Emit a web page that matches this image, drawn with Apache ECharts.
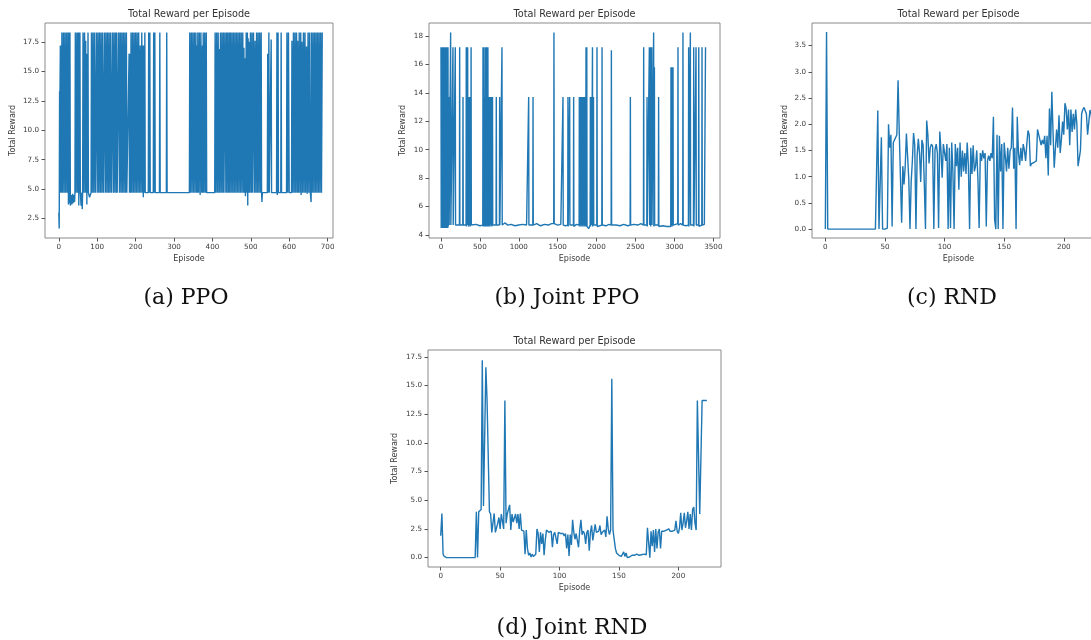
<!DOCTYPE html>
<html>
<head>
<meta charset="utf-8">
<script src="https://cdn.jsdelivr.net/npm/echarts@6/dist/echarts.min.js"></script>
<style>
html, body { margin: 0; padding: 0; background: #fff; }
#chart { width: 1091px; height: 640px; }
</style>
</head>
<body>
<div id="chart"></div>
<script>
// ---- data ----
// (a) PPO : [episode, reward]
var ppoReward = [
	[0,3.0],[1,1.65],[2,13.3],[3,13.1],[4,17.2],[5,4.7],[6,17.2],[7,4.7],[8,18.3],[10,4.7],[12,18.3],[14,4.7],[16,18.3],[18,4.7],[20,18.3],[22,4.7],[24,18.3],[25,3.7],[26,18.3],[28,3.8],[29,18.3],[30,3.6],
	[32,4.5],[34,3.7],[36,4.6],[37,3.8],[39,4.5],[41,3.9],[42,4.7],
	[43,18.3],[44,4.7],[47,18.3],[48,4.7],[49,18.3],[50,4.7],[51,18.3],[52,3.6],[53,18.3],[54,4.7],[55,18.3],[56,4.7],
	[58,3.6],[60,4.7],[61,3.3],[62,4.7],
	[63,18.3],[65,4.7],[67,18.3],[69,4.7],[70,17.6],[71,4.7],[72,16.5],[73,3.7],[74,16.5],[75,4.7],[76,18.3],[77,4.7],
	[80,4.3],[82,4.5],[84,4.7],
	[85,18.3],[87,4.7],[89,18.3],[91,4.7],[93,18.3],[95,4.7],[97,4.7],[98,18.3],[100,4.7],[102,18.3],[104,4.7],[106,18.3],[108,4.7],[110,18.3],[112,4.7],[114,18.3],[116,4.7],[118,4.7],[119,18.3],[121,4.7],[123,18.3],[125,4.7],[127,18.3],[129,4.7],[131,18.3],[133,4.7],[135,18.3],[137,4.7],[139,4.6],[140,18.3],[142,4.7],[144,18.3],[146,4.7],[148,18.3],[150,4.7],[151,18.3],[152,4.7],
	[155,4.7],[156,18.3],[158,4.7],[160,18.3],[162,4.7],[164,18.3],[166,4.7],[168,18.3],[170,4.7],[172,18.3],[174,4.7],[176,18.3],[177,4.7],
	[182,4.7],[183,16.5],[184,4.7],[186,16.5],[187,4.7],[188,18.3],[190,4.7],[192,18.3],[194,4.7],[196,18.3],[198,4.7],[200,18.3],[202,4.7],[204,18.3],[206,4.7],[208,18.3],[210,4.7],[212,17.2],[214,4.7],[216,18.3],[218,4.7],[219,17.2],[220,4.3],[222,17.2],[223,4.7],[224,18.3],[225,4.7],
	[233,4.7],[234,18.3],[235,4.7],[237,18.3],[238,4.7],
	[246,4.7],[247,18.3],[248,4.7],[250,18.3],[251,4.7],
	[262,4.7],[263,18.3],[264,4.7],
	[280,4.7],[281,18.3],[282,4.7],
	[340,4.7],[341,18.3],[343,4.7],[345,18.3],[347,4.7],[349,18.3],[351,4.7],[353,18.3],[355,4.7],[357,18.3],[359,4.7],[360,17.2],[361,4.7],[362,18.3],[364,4.7],[366,18.3],[368,4.5],[370,18.3],[372,4.7],[374,17.2],[375,4.7],[376,18.3],[378,4.7],[380,18.3],[382,4.7],[384,18.3],[385,4.7],
	[406,4.7],[407,18.3],[409,4.7],[411,18.3],[413,4.7],[415,18.3],[417,4.7],[418,16.9],[419,4.7],[421,18.3],[423,4.7],[425,18.3],[427,4.7],[429,18.3],[430,4.7],
	[433,18.3],[435,4.7],[437,18.3],[438,4.7],[440,18.3],[442,4.7],[444,18.3],[445,4.7],[447,18.3],[449,4.7],[451,18.3],[453,4.7],[455,18.3],
	[457,4.7],[459,18.3],[461,4.7],[463,18.3],[465,4.7],[467,18.3],[469,4.7],[471,18.3],[473,4.7],[475,18.3],[477,4.7],[479,18.3],
	[481,4.7],[482,17.0],[483,4.7],[485,16.1],[486,4.4],[488,18.3],[489,4.7],[491,18.3],[492,3.6],[493,17.8],[494,4.7],
	[496,17.5],[497,4.7],[499,18.3],[501,4.7],[503,18.3],[504,4.7],
	[507,18.3],[509,4.7],[511,17.6],[513,4.7],[515,18.3],[517,4.7],[519,18.3],[521,4.7],[523,18.3],[525,4.7],[527,18.3],[528,4.7],[529,3.9],[530,4.7],
	[543,4.7],[544,16.5],[545,4.7],[547,18.3],[548,4.7],
	[552,4.7],[553,17.7],[554,4.7],
	[567,4.7],[568,18.3],[569,4.5],[571,18.3],[572,4.7],
	[578,4.7],[579,18.3],[580,4.7],
	[593,4.7],[594,18.3],[596,4.7],[598,18.3],[600,4.7],
	[606,4.7],[607,17.6],[609,4.7],[611,18.3],[613,4.7],[615,18.3],[617,4.7],[619,18.3],[621,4.7],[622,17.6],[624,4.7],[626,18.3],[628,4.7],[630,18.3],[631,4.5],[633,17.5],[635,4.7],[637,18.3],[639,4.7],[641,18.3],[643,4.7],[645,17.1],[647,4.6],[649,18.3],[651,4.7],[653,18.3],[655,4.7],[657,3.9],[658,18.3],[660,4.7],[662,18.3],[664,4.7],[666,18.3],[668,4.7],[670,18.3],[672,4.7],[674,18.3],[676,4.7],[678,18.3],[680,4.7],[682,18.3],[684,4.7],[686,18.3]
];

// (b) Joint PPO : [episode, reward]
var jointPpoReward = [
	[0,17.2],[3,4.5],[6,17.2],[9,4.5],[12,17.2],[15,4.6],[18,17.2],[21,4.5],[24,17.2],[27,4.5],[30,17.2],[33,4.6],[36,17.2],[39,4.5],[42,17.2],[45,4.5],[48,17.2],[51,4.6],[54,17.2],[57,4.5],[60,17.2],[63,4.5],[66,17.2],[69,4.6],[72,17.2],[75,4.5],[78,17.2],[81,4.6],[84,15.8],[87,4.5],[90,17.2],[93,4.6],[96,13.7],[99,4.7],[102,13.7],[105,4.7],
	[121,4.7],[124,18.25],[127,4.7],
	[151,4.7],[154,17.2],[157,4.7],
	[181,4.7],[184,17.2],[187,4.7],
	[210,4.8],
	[237,4.7],[240,17.2],[243,4.7],
	[280,4.7],[283,13.7],[286,4.7],
	[300,4.65],
	[322,4.7],[325,17.2],[328,4.6],[334,17.2],[337,4.7],[343,17.2],[346,4.7],[352,13.7],[355,4.6],[362,13.7],[365,4.7],[372,13.7],[375,4.6],[381,13.7],[384,4.7],[387,17.2],[390,4.7],
	[450,4.75],[500,4.65],
	[537,4.7],[540,17.2],[543,4.6],[547,13.7],[550,4.7],[554,17.2],[557,4.6],[561,13.7],[564,4.7],[568,13.7],[571,4.6],[575,17.2],[578,4.7],[582,17.2],[585,4.6],[589,13.7],[592,4.7],[596,17.2],[599,4.6],[603,17.2],[606,4.7],[610,13.7],[613,4.6],[618,13.7],[621,4.7],[627,13.7],[630,4.6],[638,13.7],[641,4.7],[650,13.7],[653,4.6],[662,13.7],[665,4.7],
	[690,4.8],[708,4.7],[711,13.7],[714,4.7],[751,4.7],[754,13.7],[757,4.7],[781,4.7],[784,17.2],[787,4.7],
	[820,4.85],[860,4.7],[900,4.75],[950,4.65],[1000,4.7],[1050,4.75],[1100,4.7],
	[1124,4.7],[1127,13.7],[1130,4.7],[1180,4.7],[1183,13.7],[1186,4.7],
	[1230,4.8],[1280,4.65],[1330,4.75],[1380,4.7],[1420,4.8],
	[1449,4.8],[1452,18.25],[1455,4.8],
	[1500,4.7],[1540,4.75],
	[1565,4.7],[1568,13.7],[1571,4.7],[1600,4.65],[1629,4.7],[1632,13.7],[1635,4.6],[1651,4.7],[1654,13.7],[1657,4.7],
	[1680,4.8],[1702,4.7],[1705,13.7],[1708,4.6],[1740,4.75],
	[1775,4.7],[1778,13.7],[1781,4.6],[1788,13.7],[1791,4.7],[1798,13.7],[1801,4.6],[1808,13.7],[1811,4.7],[1818,13.7],[1821,4.6],[1828,13.7],[1831,4.7],[1838,13.7],[1841,4.6],[1848,13.7],[1851,4.7],[1857,13.7],[1860,4.6],[1864,17.2],[1867,4.7],[1874,17.2],[1877,4.6],
	[1900,4.45],[1917,4.7],[1920,13.7],[1923,4.6],[1932,13.7],[1935,4.7],[1947,17.2],[1950,4.6],[1960,13.7],[1963,4.7],
	[2002,4.7],[2005,17.2],[2008,4.6],[2040,4.65],[2067,4.7],[2070,17.2],[2073,4.7],
	[2120,4.65],[2160,4.75],[2187,4.7],[2190,17.0],[2193,4.7],
	[2250,4.7],[2300,4.65],[2350,4.75],[2400,4.65],[2431,4.7],[2434,13.7],[2437,4.7],
	[2480,4.75],[2530,4.7],[2570,4.8],
	[2602,4.7],[2605,17.2],[2608,4.7],[2645,4.7],[2648,13.7],[2651,4.6],[2675,4.7],[2678,17.2],[2681,4.7],[2692,17.2],[2695,4.6],[2709,17.2],[2712,4.7],[2730,4.7],[2733,18.25],[2736,4.6],[2743,15.8],[2746,4.7],[2794,4.7],[2797,13.7],[2800,4.6],
	[2850,4.65],[2900,4.6],
	[2953,4.6],[2956,15.8],[2959,4.6],[2962,15.8],[2965,4.7],[2968,15.8],[2971,4.6],[2975,15.8],[2978,4.7],[2982,15.8],[2985,4.7],
	[3010,4.75],[3043,4.8],[3046,17.2],[3049,4.7],[3080,4.8],[3107,4.7],[3110,18.25],[3113,4.7],[3150,4.65],
	[3180,4.7],[3183,17.2],[3186,4.6],[3202,4.7],[3205,18.25],[3208,4.7],[3245,4.7],[3248,17.2],[3251,4.6],[3275,4.7],[3278,17.2],[3281,4.7],[3310,4.7],[3313,17.2],[3316,4.6],[3352,4.7],[3355,17.2],[3358,4.7],[3385,4.75],[3397,4.7],[3400,17.2]
];

// (c) RND : reward per episode, episode 0..224
var rndReward = [
	0, 3.76, 0, 0, 0, 0, 0, 0, 0, 0,
	0, 0, 0, 0, 0, 0, 0, 0, 0, 0,
	0, 0, 0, 0, 0, 0, 0, 0, 0, 0,
	0, 0, 0, 0, 0, 0, 0, 0, 0, 0,
	0, 0, 0, 0, 2.26, 0, 0, 1.75, 0, 0.02,
	0, 0, 0.02, 2.0, 1.55, 1.8, 0.05, 1.65, 1.7, 1.7,
	1.8, 2.84, 1.85, 1.82, 0.12, 1.2, 0.85, 1.2, 1.82, 1.8,
	0.95, 0, 0.9, 1.3, 1.83, 1.6, 0, 1.4, 1.72, 1.45,
	0.9, 1.7, 1.6, 0.88, 0, 2.07, 1.8, 1.25, 1.55, 1.62,
	1.58, 0, 1.52, 1.62, 1.45, 0.02, 1.86, 1.5, 0.98, 1.62,
	1.6, 1.3, 1.62, 0, 1.55, 0.02, 1.65, 1.1, 0, 1.62,
	1.2, 1.55, 0.75, 1.65, 1.0, 1.5, 1.1, 1.45, 1.05, 1.65,
	1.2, 0, 1.55, 1.05, 1.6, 1.1, 1.2, 1.5, 0.95, 0.02,
	1.45, 1.3, 1.5, 1.35, 1.45, 0.05, 1.3, 1.4, 1.3, 1.45,
	1.35, 2.14, 0.18, 0, 1.8, 0, 1.78, 1.1, 1.62, 0,
	1.65, 1.68, 1.1, 1.55, 1.15, 1.5, 1.55, 2.32, 1.15, 1.55,
	0, 2.14, 1.45, 1.22, 1.55, 1.3, 1.62, 1.5, 1.3, 1.62,
	1.88, 1.8, 1.2, 1.25, 1.22, 1.27, 1.25, 1.3, 1.9, 1.8,
	1.82, 1.6, 1.7, 1.62, 1.78, 1.35, 1.78, 1.02, 2.3, 1.6,
	2.62, 1.85, 1.17, 1.15, 1.9, 1.55, 2.17, 1.45, 1.7, 2.05,
	1.8, 2.4, 2.3, 1.9, 2.28, 1.6, 2.28, 1.85, 2.2, 1.9,
	2.28, 2.0, 1.2, 1.35, 1.5, 2.2, 2.28, 2.32, 2.3, 2.2,
	1.8, 1.82, 2.27, 2.2, 1.95
];

// (d) Joint RND : reward per episode, episode 0..224
var jointRndReward = [
	1.9, 3.85, 0.3, 0.1, 0, 0, 0, 0, 0, 0,
	0, 0, 0, 0, 0, 0, 0, 0, 0, 0,
	0, 0, 0, 0, 0, 0, 0, 0, 0, 0,
	4.0, 0, 4.0, 4.1, 4.2, 17.2, 4.5, 4.5, 16.6, 13.7,
	13.7, 4.0, 3.8, 2.2, 2.3, 3.85, 2.2, 2.6, 3.0, 3.5,
	2.5, 3.8, 3.9, 2.5, 13.7, 3.0, 3.8, 3.7, 4.6, 2.4,
	3.8, 3.1, 3.0, 3.8, 3.0, 3.8, 2.5, 3.85, 2.4, 2.4,
	2.3, 0.3, 2.4, 0.8, 0.2, 0.4, 0.05, 0.3, 0.1, 0.2,
	0.3, 2.5, 2.1, 0.5, 2.2, 1.2, 2.1, 0.2, 1.5, 2.4,
	2.3, 2.2, 2.2, 2.3, 0.9, 2.0, 2.2, 2.1, 1.2, 2.2,
	2.1, 2.1, 2.0, 2.1, 1.9, 2.1, 0.8, 2.0, 0.15, 2.0,
	1.1, 3.3, 2.2, 1.6, 2.1, 2.2, 0.9, 2.4, 3.3, 2.0,
	2.3, 2.1, 1.2, 2.2, 2.4, 0.6, 2.2, 2.8, 1.5, 2.2,
	2.9, 2.2, 2.1, 2.3, 2.8, 2.0, 2.2, 2.3, 2.4, 1.8,
	3.6, 2.5, 2.0, 2.4, 15.6, 2.4, 2.5, 0.8, 0.4, 0.3,
	0.2, 0.35, 0.1, 0.3, 0.5, 0.1, 0.4, 0, 0.1, 0.05,
	0.15, 0.2, 0.3, 0.2, 0.25, 0.3, 0.2, 0.2, 0.3, 0.25,
	0.3, 0.3, 0.2, 0.25, 2.6, 2.5, 0, 2.3, 1.0, 2.4,
	0.5, 2.5, 0.8, 2.2, 2.5, 0.8, 2.3, 2.4, 2.3, 2.3,
	2.4, 2.3, 2.5, 2.3, 2.2, 2.3, 2.2, 2.4, 3.2, 2.3,
	2.1, 2.6, 3.9, 2.4, 3.0, 3.9, 2.6, 3.2, 4.0, 2.5,
	3.8, 2.4, 4.2, 4.4, 3.0, 2.4, 13.7, 13.7, 3.8, 3.8,
	13.7, 13.7, 13.7, 13.7, 13.7
];

// tick labels
var ppoXTicks = [0, 100, 200, 300, 400, 500, 600, 700];
var ppoYTicks = [2.5, 5, 7.5, 10, 12.5, 15, 17.5];
var jointPpoXTicks = [0, 500, 1000, 1500, 2000, 2500, 3000, 3500];
var jointPpoYTicks = [4, 6, 8, 10, 12, 14, 16, 18];
var rndXTicks = [0, 50, 100, 150, 200];
var rndYTicks = [0, 0.5, 1, 1.5, 2, 2.5, 3, 3.5];
var jointRndXTicks = [0, 50, 100, 150, 200];
var jointRndYTicks = [0, 2.5, 5, 7.5, 10, 12.5, 15, 17.5];

var plotTitle = 'Total Reward per Episode';
var xName = 'Episode';
var yName = 'Total Reward';
var captions = ['(a) PPO', '(b) Joint PPO', '(c) RND', '(d) Joint RND'];

function toPairs(arr) {
	return arr.map(function(v, i) { return [i, v]; });
}

// panel layout (pixels) and axis ranges
var panels = [
	{ grid: {left: 45, top: 23, width: 288, height: 215}, xMin: -36, xMax: 714, yMin: 0.85, yMax: 19.1,
		xTicks: ppoXTicks, yTicks: ppoYTicks, yDec: 1, data: ppoReward, yGap: 28, caption: [186, 298] },
	{ grid: {left: 429, top: 23, width: 291, height: 215}, xMin: -154, xMax: 3586, yMin: 3.79, yMax: 18.91,
		xTicks: jointPpoXTicks, yTicks: jointPpoYTicks, yDec: 0, data: jointPpoReward, yGap: 22, caption: [567, 298] },
	{ grid: {left: 812, top: 23, width: 293, height: 215}, xMin: -11.2, xMax: 234.6, yMin: -0.17, yMax: 3.93,
		xTicks: rndXTicks, yTicks: rndYTicks, yDec: 1, data: toPairs(rndReward), yGap: 23, caption: [952, 298] },
	{ grid: {left: 428, top: 350, width: 293, height: 217}, xMin: -10.7, xMax: 235.9, yMin: -0.82, yMax: 18.1,
		xTicks: jointRndXTicks, yTicks: jointRndYTicks, yDec: 1, data: toPairs(jointRndReward), yGap: 29, caption: [572, 628] }
];

var textColor = '#3a3a3a';
var tickFont = 7.2;

var grids = [], xAxes = [], yAxes = [], series = [], graphics = [];
panels.forEach(function(p, i) {
	grids.push({
		left: p.grid.left, top: p.grid.top, width: p.grid.width, height: p.grid.height,
		show: true, borderColor: '#8a8a8a', borderWidth: 1, backgroundColor: 'transparent',
		containLabel: false, outerBoundsMode: 'none'
	});
	xAxes.push({
		gridIndex: i, type: 'value', min: p.xMin, max: p.xMax,
		axisLine: {show: false, onZero: false}, splitLine: {show: false},
		axisTick: {show: true, length: 3.5, customValues: p.xTicks, lineStyle: {color: '#555', width: 1}},
		axisLabel: {customValues: p.xTicks, fontSize: tickFont, color: textColor, margin: 6, fontFamily: 'DejaVu Sans',
			formatter: function(v) { return String(v); }},
		name: xName, nameLocation: 'middle', nameGap: 17,
		nameTextStyle: {fontSize: 8, color: textColor, fontFamily: 'DejaVu Sans'}
	});
	yAxes.push({
		gridIndex: i, type: 'value', min: p.yMin, max: p.yMax,
		axisLine: {show: false, onZero: false}, splitLine: {show: false},
		axisTick: {show: true, length: 3.5, customValues: p.yTicks, lineStyle: {color: '#555', width: 1}},
		axisLabel: {customValues: p.yTicks, fontSize: tickFont, color: textColor, margin: 6, fontFamily: 'DejaVu Sans',
			formatter: (function(dec) { return function(v) { return Number(v).toFixed(dec); }; })(p.yDec)},
		name: yName, nameLocation: 'middle', nameGap: p.yGap,
		nameTextStyle: {fontSize: 8, color: textColor, fontFamily: 'DejaVu Sans'}
	});
	series.push({
		type: 'line', xAxisIndex: i, yAxisIndex: i, data: p.data,
		showSymbol: false, symbol: 'none', animation: false, silent: true,
		lineStyle: {color: '#1f77b4', width: 1.4},
		itemStyle: {color: '#1f77b4'}
	});
	graphics.push({
		type: 'text', x: p.grid.left + Math.min(p.grid.width, 1091 - p.grid.left + 14) / 2,
		y: p.grid.top - 9,
		style: {text: plotTitle, fill: '#333', font: '9.7px "DejaVu Sans"', textAlign: 'center', textVerticalAlign: 'middle', align: 'center', verticalAlign: 'middle'}
	});
	graphics.push({
		type: 'text', x: p.caption[0], y: p.caption[1],
		style: {text: captions[i], fill: '#111', font: '22px "DejaVu Serif"', textAlign: 'center', textVerticalAlign: 'middle', align: 'center', verticalAlign: 'middle'}
	});
});

var chart = echarts.init(document.getElementById('chart'), null, {renderer: 'canvas'});
chart.setOption({
	animation: false,
	backgroundColor: '#fff',
	grid: grids,
	xAxis: xAxes,
	yAxis: yAxes,
	series: series,
	graphic: graphics
});
</script>
</body>
</html>
